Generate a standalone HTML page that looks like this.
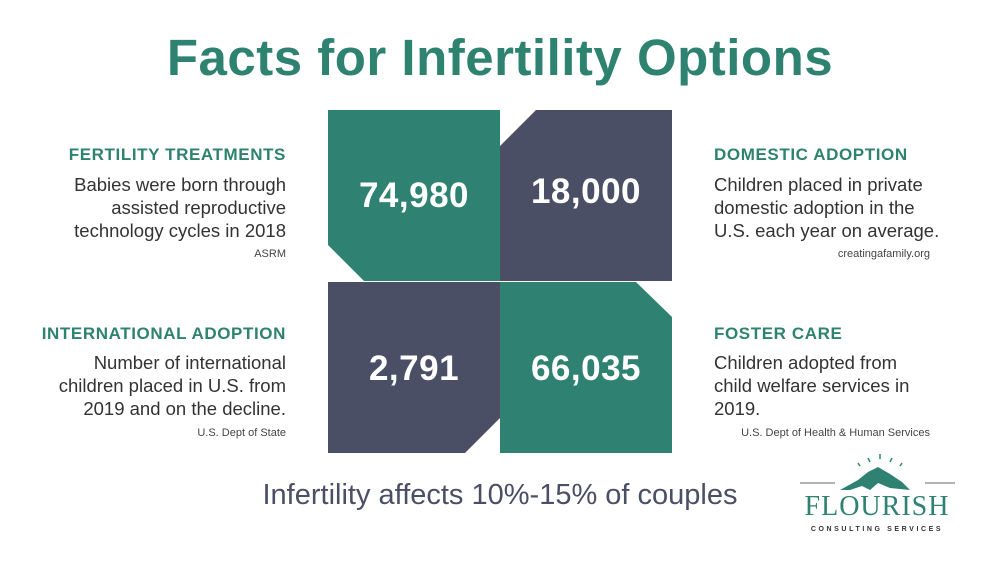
<!DOCTYPE html>
<html><head><meta charset="utf-8">
<style>
body{margin:0;width:1000px;height:563px;background:#fff;font-family:"Liberation Sans",sans-serif;position:relative;overflow:hidden}
.a{position:absolute}
h1{position:absolute;margin:0;left:0;width:1000px;top:28px;text-align:center;font-size:51px;font-weight:bold;color:#2e8270;letter-spacing:0.5px}
.hd{font-weight:bold;color:#2e8270;font-size:17px;letter-spacing:0.6px}
.bd{font-size:18.5px;color:#333;line-height:23px}
.src{font-size:11px;color:#444}
.r{text-align:right}
.num{position:absolute;color:#fff;font-weight:bold;font-size:35px;text-align:center;width:172px;letter-spacing:0.5px}
</style></head><body>
<h1>Facts for Infertility Options</h1>

<div class="a hd r" style="right:714px;top:145px">FERTILITY TREATMENTS</div>
<div class="a bd r" style="right:714px;top:173px">Babies were born through<br>assisted reproductive<br>technology cycles in 2018</div>
<div class="a src r" style="right:714px;top:248px">ASRM</div>

<div class="a hd r" style="right:714px;top:324px">INTERNATIONAL ADOPTION</div>
<div class="a bd r" style="right:714px;top:351px">Number of international<br>children placed in U.S. from<br>2019 and on the decline.</div>
<div class="a src r" style="right:714px;top:427px">U.S. Dept of State</div>

<div class="a hd" style="left:714px;top:145px">DOMESTIC ADOPTION</div>
<div class="a bd" style="left:714px;top:173px">Children placed in private<br>domestic adoption in the<br>U.S. each year on average.</div>
<div class="a src r" style="right:70px;top:248px">creatingafamily.org</div>

<div class="a hd" style="left:714px;top:324px">FOSTER CARE</div>
<div class="a bd" style="left:714px;top:351px">Children adopted from<br>child welfare services in<br>2019.</div>
<div class="a src r" style="right:70px;top:427px">U.S. Dept of Health &amp; Human Services</div>

<svg class="a" style="left:0;top:0" width="1000" height="563">
<polygon fill="#2f8272" points="328,110 500,110 500,281 364,281 328,245"/>
<polygon fill="#4a4f66" points="536,110 672,110 672,281 500,281 500,146"/>
<polygon fill="#4a4f66" points="328,282 500,282 500,418 465,453 328,453"/>
<polygon fill="#2f8272" points="500,282 636,282 672,317 672,453 500,453"/>
</svg>
<div class="num" style="left:328px;top:176px">74,980</div>
<div class="num" style="left:500px;top:172px">18,000</div>
<div class="num" style="left:328px;top:349px">2,791</div>
<div class="num" style="left:500px;top:349px">66,035</div>

<div class="a" style="left:0;width:1000px;top:479px;text-align:center;font-size:29px;color:#4a4f66">Infertility affects 10%-15% of couples</div>

<svg class="a" style="left:790px;top:450px" width="170" height="90">
<line x1="10" y1="33" x2="45" y2="33" stroke="#666" stroke-width="1"/>
<line x1="135" y1="33" x2="165" y2="33" stroke="#666" stroke-width="1"/>
<polygon fill="#2f8272" points="50,40 68,30 78,22 88,17 100,24 112,32 120,40 100,38 88,33 80,40 72,36 60,40"/>
<g stroke="#2f8272" stroke-width="1.5"><line x1="90" y1="4" x2="90" y2="9"/><line x1="78" y1="8" x2="80" y2="12"/><line x1="102" y1="8" x2="100" y2="12"/><line x1="68" y1="13" x2="70" y2="16"/><line x1="112" y1="13" x2="110" y2="16"/></g>
<text x="87" y="65" text-anchor="middle" font-family="Liberation Serif" font-size="28" fill="#2f8272" letter-spacing="1">FLOURISH</text>
<text x="87" y="81" text-anchor="middle" font-family="Liberation Sans" font-weight="bold" font-size="7" fill="#333" letter-spacing="2.6">CONSULTING SERVICES</text>
</svg>
</body></html>
